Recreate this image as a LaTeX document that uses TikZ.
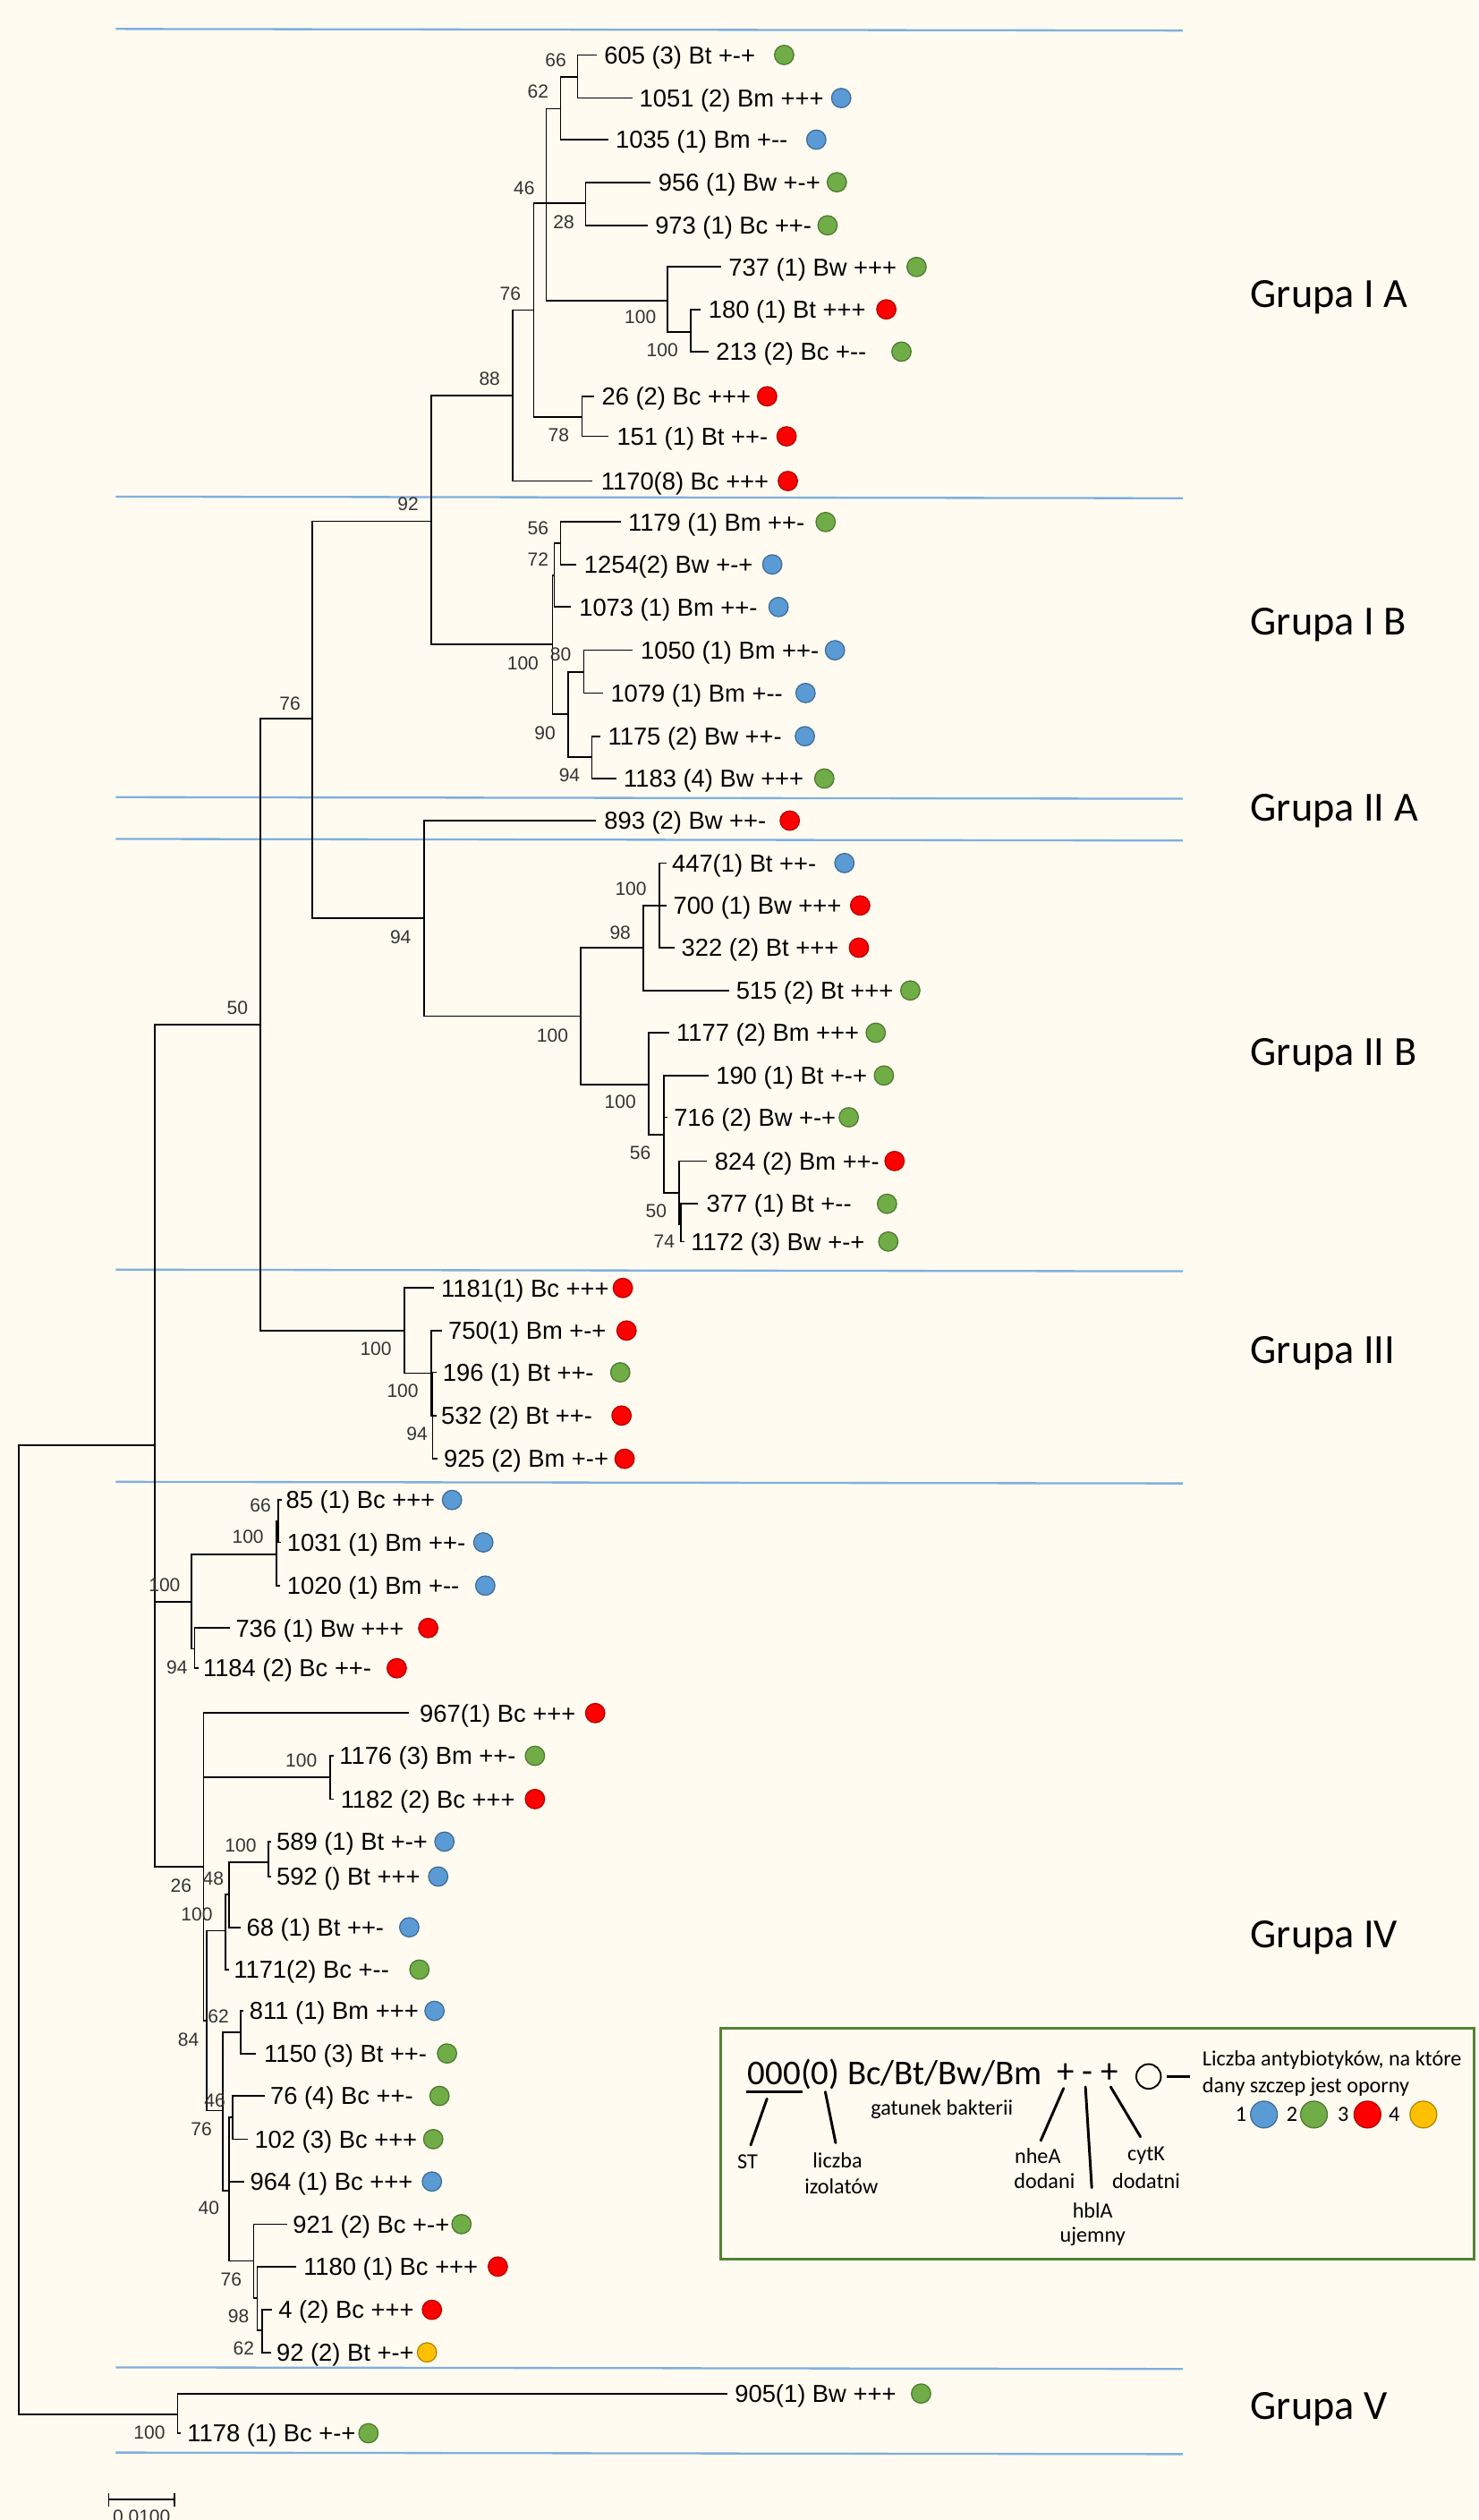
\documentclass[tikz,border=0pt]{standalone}
\usepackage{fontspec}
\setmainfont{Liberation Sans}
\newfontfamily\legendfont{Carlito}
\usetikzlibrary{positioning}
\definecolor{paper}{RGB}{255,251,240}
\definecolor{sepblue}{RGB}{127,175,222}
\definecolor{dotblue}{RGB}{91,155,213}
\definecolor{dotgreen}{RGB}{112,173,71}
\definecolor{dotred}{RGB}{255,0,0}
\definecolor{dotyellow}{RGB}{255,192,0}
\definecolor{boxgreen}{RGB}{84,130,53}

\begin{document}
\begin{tikzpicture}[x=0.03cm, y=-0.03cm,
  branch/.style={line width=0.8pt, black, line cap=rect},
  sepline/.style={line width=1.1pt, sepblue},
  leaf/.style={anchor=west, inner sep=0pt, font=\fontsize{13}{15}\selectfont, text height=9.3pt, text depth=0pt},
  boot/.style={inner sep=0pt, font=\fontsize{10}{12}\selectfont, text=black!80},
  grp/.style={anchor=west, inner sep=0pt, font=\legendfont\fontsize{22}{26}\selectfont, text height=13.9pt, text depth=0pt},
  res/.style={circle, inner sep=0pt, minimum size=0.36cm, fill=#1, draw=#1!70!black, line width=0.6pt},
  note/.style={inner sep=0pt, font=\legendfont\fontsize{11.5}{14}\selectfont},
  pointer/.style={line width=1.4pt, line cap=round}]

  % Page
  \fill[paper] (0,0) rectangle (920,1568);
  \useasboundingbox (0,0) rectangle (920,1568);

  % Group separators and names
  \foreach \y in {18,309,496,522,790,922,1473,1526}
    \draw[sepline] (72,\y) -- (736,\y+1);
  \foreach \y/\txt in {183/Grupa I A, 387/Grupa I B, 503/Grupa II A, 655/Grupa II B,
                       840/Grupa III, 1204/Grupa IV, 1497/Grupa V}
    \node[grp] (g\y) at (778,\y) {\txt};

  % Internal nodes: x / top child / bottom child / parent x / entry y
  \foreach \x/\a/\b/\p/\e in {
    359.4/34.2/61/348.9/47.7, 348.9/47.7/86.9/339.9/67.6, 339.9/67.6/187/332.1/126.5,
    364.5/113.4/140.2/339.9/126.5, 415.3/166.1/206.5/339.9/187, 429.8/192.5/218.8/415.3/206.5,
    332.1/126.5/259.6/319.2/193, 362.2/246.6/271.5/332.1/259.6, 319.2/193/299.3/268.4/246,
    268.4/246/400.9/194.2/324.3,
    348.9/324.8/351.2/345/338, 345/338/377.7/343.8/358.2, 343.8/358.2/444.5/268.4/400.9,
    363.3/404.6/431.2/353.6/418, 353.6/418/470.9/343.8/444.5, 368.4/458.1/484.4/353.6/470.9,
    194.2/324.3/571.4/162.1/447.3,
    264.1/510.6/632.2/194.2/571.4, 410.2/537/589.7/400.5/563.4, 400.5/563.4/616.3/361.4/589.7,
    361.4/589.7/674.7/264.1/632.2, 403.6/642.6/705.9/361.4/674.7, 413/669.2/742.1/403.6/705.9,
    422.7/722.4/762/413/742.1, 423.9/749/772.5/422.7/761, 162.1/447.3/827.9/96.5/637.6,
    251.5/801.4/854.4/162.1/827.9, 268.2/827.9/880.8/251.5/854.4, 269.2/853.9/907.7/268.2/880.8,
    173.1/933.3/959.7/171.9/946.7, 171.9/946.7/986.6/119.2/967.1, 121.1/1013/1038/119.2/1026,
    119.2/967.1/1026/96.5/996.8, 205.5/1092.5/1119.4/126.6/1106, 167.1/1145.9/1167.6/142.6/1158.9,
    142.6/1158.9/1199.2/140.2/1178.8, 140.2/1178.8/1225.5/128.5/1201.4, 126.6/1065.9/1257.1/96.5/1161.5,
    128.5/1201.4/1313.3/126.6/1257.1, 149.8/1251.2/1277.7/138.8/1264.5, 138.8/1264.5/1362.9/128.5/1313.3,
    144.8/1304.1/1331/142.6/1317.4, 142.6/1317.4/1406.7/138.8/1362.9, 157.8/1383.9/1430/142.6/1406.7,
    160/1410.3/1449.8/157.8/1430, 163.3/1437.2/1463.7/160/1449.8, 96.5/637.6/1161.5/11.7/899.4,
    110.6/1489.3/1514/11.7/1502.3}
    \draw[branch] (\p,\e) -- (\x,\e) (\x,\a) -- (\x,\b);
  % Root
  \coordinate (root) at (11.7,899.4);
  \coordinate (rootEnd) at (11.7,1502.3);
  \draw[branch] (root) -- (rootEnd);

  % Leaves: ST / y / parent x / branch end / label x / dot x / colour / label
  \foreach \st/\y/\xs/\xe/\lx/\dx/\col/\txt in {
    605/34.2/359.4/371/375.8/488/dotgreen/605 (3) Bt +-+,
    1051/61/359.4/393.4/397.7/523.5/dotblue/1051 (2) Bm +++,
    1035/86.9/348.9/378.2/382.9/508/dotblue/1035 (1) Bm +-{}-,
    956/113.4/364.5/404.4/409.5/520.8/dotgreen/956 (1) Bw +-+,
    973/140.2/364.5/402.4/407.5/515/dotgreen/973 (1) Bc ++-,
    737/166.1/415.3/448.5/453.2/570.4/dotgreen/737 (1) Bw +++,
    180/192.5/429.8/435.6/440.7/551.6/dotred/180 (1) Bt +++,
    213/218.8/429.8/440.7/445.4/561/dotgreen/213 (2) Bc +-{}-,
    26/246.6/362.2/369.2/374.3/477.4/dotred/26 (2) Bc +++,
    151/271.5/362.2/378.2/383.7/489.5/dotred/151 (1) Bt ++-,
    1170/299.3/319.2/368.4/373.9/490.3/dotred/1170(8) Bc +++,
    1179/324.8/348.9/386/390.7/513.8/dotgreen/1179 (1) Bm ++-,
    1254/351.2/348.9/358.3/363.3/480.6/dotblue/1254(2) Bw +-+,
    1073/377.7/345/354.8/360.2/484.5/dotblue/1073 (1) Bm ++-,
    1050/404.6/363.3/393.4/398.5/519.6/dotblue/1050 (1) Bm ++-,
    1079/431.2/363.3/375.1/379.8/501.3/dotblue/1079 (1) Bm +-{}-,
    1175/458.1/368.4/373.1/378.2/500.9/dotblue/1175 (2) Bw ++-,
    1183/484.4/368.4/382.9/388/513/dotgreen/1183 (4) Bw +++,
    893/510.6/264.1/370.4/375.8/491.5/dotred/893 (2) Bw ++-,
    447/537/410.2/414.1/418/525.5/dotblue/447(1) Bt ++-,
    700/563.4/400.5/414.1/418.8/535.3/dotred/700 (1) Bw +++,
    322/589.7/410.2/419.2/423.9/534.5/dotred/322 (2) Bt +++,
    515/616.3/400.5/453.2/457.9/566.5/dotgreen/515 (2) Bt +++,
    1177/642.6/403.6/416.1/420.8/545/dotgreen/1177 (2) Bm +++,
    190/669.2/413/440.3/445.4/550.1/dotgreen/190 (1) Bt +-+,
    716/695.2/413/414.8/419.2/528.2/dotgreen/716 (2) Bw +-+,
    824/722.4/422.7/439.5/444.6/556.7/dotred/824 (2) Bm ++-,
    377/749/423.9/433.7/439.5/552/dotgreen/377 (1) Bt +-{}-,
    1172/772.5/423.9/425.5/429.8/552.8/dotgreen/1172 (3) Bw +-+,
    1181/801.4/251.5/269.5/274.4/387.6/dotred/1181(1) Bc +++,
    750/827.9/268.2/274.7/278.8/389.9/dotred/750(1) Bm +-+,
    196/853.9/269.2/271/275.3/386/dotgreen/196 (1) Bt ++-,
    532/880.8/269.2/271/274.4/386.8/dotred/532 (2) Bt ++-,
    925/907.7/269.2/272/276/388.7/dotred/925 (2) Bm +-+,
    85/933.3/173.1/175/177.8/281.3/dotblue/85 (1) Bc +++,
    1031/959.7/173.1/174.5/178.5/300.8/dotblue/1031 (1) Bm ++-,
    1020/986.6/171.9/174/178.5/302/dotblue/1020 (1) Bm +-{}-,
    736/1013/121.1/142.6/146.5/266.5/dotred/736 (1) Bw +++,
    1184/1038/121.1/123/126.2/246.9/dotred/1184 (2) Bc ++-,
    967/1065.9/126.6/254/261/370.4/dotred/967(1) Bc +++,
    1176/1092.5/205.5/207/211/332.9/dotgreen/1176 (3) Bm ++-,
    1182/1119.4/205.5/207/211.8/332.9/dotred/1182 (2) Bc +++,
    589/1145.9/167.1/168.5/171.9/276.6/dotblue/589 (1) Bt +-+,
    592/1167.6/167.1/168.5/171.9/272.7/dotblue/592 () Bt +++,
    68/1199.2/142.6/149.4/153.2/254.7/dotblue/68 (1) Bt ++-,
    1171/1225.5/140.2/141.8/145.3/261/dotgreen/1171(2) Bc +-{}-,
    811/1251.2/149.8/151/155.1/270.4/dotblue/811 (1) Bm +++,
    1150/1277.7/149.8/158.7/164.1/278.2/dotgreen/1150 (3) Bt ++-,
    76/1304.1/144.8/164.3/168/273.5/dotgreen/76 (4) Bc ++-,
    102/1331/144.8/153.7/158.2/269.6/dotgreen/102 (3) Bc +++,
    964/1357.4/142.6/151.3/155.5/268.8/dotblue/964 (1) Bc +++,
    921/1383.9/157.8/178.2/182.1/287.2/dotgreen/921 (2) Bc +-+,
    1180/1410.3/160/183.8/188.7/309.8/dotred/1180 (1) Bc +++,
    4/1437.2/163.3/168.8/173.1/268.8/dotred/4 (2) Bc +++,
    92/1463.7/163.3/168/171.9/265.7/dotyellow/92 (2) Bt +-+,
    905/1489.3/110.6/452.4/457.1/573.2/dotgreen/905(1) Bw +++,
    1178/1514/110.6/112/116.4/229.3/dotgreen/1178 (1) Bc +-+}
  {
    \coordinate (b\st) at (\xe,\y);
    \draw[branch] (\xs,\y) -- (b\st);
    \node[leaf] (l\st) at (\lx,\y) {\txt};
    \node[res=\col] (d\st) at (\dx,\y) {};
  }

  % Bootstrap values
  \foreach \x/\y/\txt [count=\i] in {
    345.8/37.2/66, 334.8/56.7/62, 326.2/117/46, 350.8/138.2/28, 317.6/182.6/76,
    398.5/197.5/100, 412.2/217.8/100, 304.7/235.7/88, 347.7/270.5/78, 254/313.7/92,
    334.8/328.5/56, 334.8/348/72, 325.4/412.6/100, 348.9/407/80, 339.1/456.2/90,
    354.4/482.6/94, 180.5/437.7/76,
    249.3/582.9/94, 343.8/644.1/100, 386/580.1/98, 392.6/553.2/100, 386/685.5/100,
    398.5/717.4/56, 408.3/753.6/50, 413.4/772.2/74, 147.7/627/50,
    233.9/839.1/100, 250.6/865.6/100, 259.5/892.3/94,
    162.1/936.5/66, 154.3/956.4/100, 102.4/986.2/100, 110.2/1037.7/94, 187.5/1095.6/100,
    149.8/1148.2/100, 112.7/1173.2/26, 132.7/1169/48, 122.5/1191.4/100, 135.9/1254.5/62,
    117.3/1269.2/84, 133.7/1306.8/46, 125.3/1324.8/76, 129.9/1373.7/40, 143.9/1418.3/76,
    148.5/1441.4/98, 151.6/1461.3/62, 93/1513.4/100}
    \node[boot] (bs\i) at (\x,\y) {\txt};

  % Scale bar
  \coordinate (sbL) at (67.6,1555.2);
  \coordinate (sbR) at (108.6,1555.2);
  \draw[branch] (sbL) -- (sbR);
  \draw[branch] ([yshift=0.11cm]sbL) -- ([yshift=-0.12cm]sbL);
  \draw[branch] ([yshift=0.11cm]sbR) -- ([yshift=-0.12cm]sbR);
  \node[boot, anchor=north] (sbtxt) at (88.1,1561.5) {0.0100};

  % Legend
  \draw[boxgreen, line width=1.3pt] (448.5,1262) rectangle (917.5,1405.6);
  \node[anchor=west, inner sep=0pt, font=\legendfont\fontsize{18.5}{22}\selectfont,
        text height=11.7pt, text depth=0pt] (key) at (465.2,1290) {000(0) Bc/Bt/Bw/Bm};
  \node[inner sep=0pt, font=\legendfont\fontsize{18.5}{22}\selectfont] (signs) at (677,1290) {+ - +};
  \draw[line width=1.5pt] (464.3,1301.6) -- (499.5,1301.6);
  \node[circle, draw, line width=0.9pt, minimum size=0.46cm, inner sep=0pt] (ring) at (714.8,1292) {};
  \coordinate (dashEnd) at (740.5,1292);
  \draw[line width=1.6pt] ([xshift=0.09cm]ring.east) -- (dashEnd);

  \node[note, anchor=west] (resA) at (748.1,1281.8) {Liczba antybiotyków, na które};
  \node[note, anchor=west] (resB) at (748.1,1298.5) {dany szczep jest oporny};
  \foreach \k/\x/\dx/\col in {1/772.3/786.6/dotblue, 2/804.1/817.7/dotgreen,
                              3/835.9/851/dotred, 4/867.6/885.8/dotyellow}
  {
    \node[note] (k\k) at (\x,1315.7) {\k};
    \node[res=\col, minimum size=0.5cm] (kd\k) at (\dx,1315.7) {};
  }

  \node[note] (nST) at (465.2,1344.9) {ST};
  \node[note] (nIzoA) at (521.2,1344) {liczba};
  \node[note] (nIzoB) at (523.6,1360.3) {izolatów};
  \node[note] (nGat) at (586.2,1312.4) {gatunek bakterii};
  \node[note] (nNheA) at (645.8,1341.2) {nheA};
  \node[note] (nNheB) at (650,1357) {dodani};
  \node[note] (nHblA) at (680,1375.5) {hblA};
  \node[note] (nHblB) at (680,1391.8) {ujemny};
  \node[note] (nCytA) at (713.3,1341.2) {cytK};
  \node[note] (nCytB) at (713.3,1357) {dodatni};

  \coordinate (pST) at (477.3,1305.9);
  \coordinate (pIzo) at (513.6,1301.6);
  \coordinate (pNhe) at (661.9,1299.4);
  \coordinate (pHbl) at (675.5,1298.5);
  \coordinate (pCyt) at (691.2,1298.5);
  \draw[pointer, shorten >=5pt] (pST) -- (nST.north);
  \draw[pointer, shorten >=5pt] (pIzo) -- (nIzoA.north);
  \draw[pointer, shorten >=4pt] (pNhe) -- (nNheA.north);
  \draw[pointer, shorten >=8pt] (pHbl) -- (nHblA.north);
  \draw[pointer, shorten >=6pt] (pCyt) -- (nCytA.north);
\end{tikzpicture}
\end{document}
